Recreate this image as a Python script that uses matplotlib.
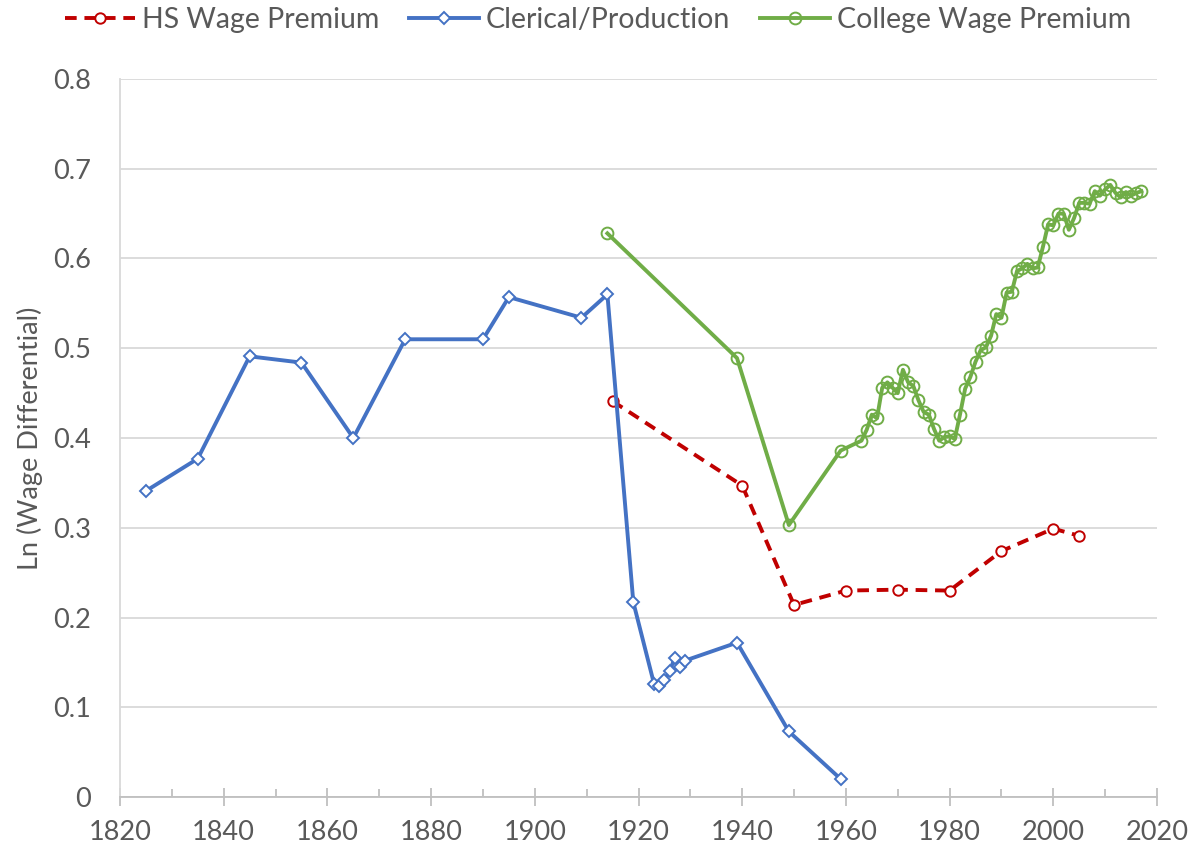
import matplotlib.pyplot as plt
from matplotlib.ticker import MultipleLocator

plt.rcParams['font.family'] = ['Lato', 'DejaVu Sans']

# HS wage premium
hs_years = [1915, 1940, 1950, 1960, 1970, 1980, 1990, 2000, 2005]
hs_vals = [0.441, 0.347, 0.214, 0.230, 0.231, 0.230, 0.274, 0.299, 0.291]

# Clerical / production
cl_years = [1825, 1835, 1845, 1855, 1865, 1875, 1890, 1895, 1909, 1914, 1919,
            1923, 1924, 1925, 1926, 1927, 1928, 1929, 1939, 1949, 1959]
cl_vals = [0.341, 0.377, 0.491, 0.484, 0.400, 0.510, 0.510, 0.557, 0.534, 0.560, 0.217,
           0.126, 0.124, 0.130, 0.140, 0.155, 0.145, 0.152, 0.172, 0.073, 0.020]

# College wage premium
co_years = [1914, 1939, 1949, 1959] + list(range(1963, 2018))
co_vals = [0.628, 0.489, 0.303, 0.386,
           0.397, 0.409, 0.426, 0.422, 0.456, 0.462, 0.456, 0.450, 0.476, 0.462,
           0.458, 0.442, 0.429, 0.426, 0.410, 0.397, 0.401, 0.402, 0.399, 0.426,
           0.455, 0.468, 0.485, 0.498, 0.501, 0.514, 0.538, 0.534, 0.562, 0.563,
           0.586, 0.589, 0.594, 0.589, 0.590, 0.613, 0.638, 0.637, 0.650, 0.650,
           0.632, 0.645, 0.662, 0.662, 0.661, 0.675, 0.670, 0.677, 0.682, 0.673,
           0.668, 0.674, 0.670, 0.673, 0.675]

fig = plt.figure(figsize=(11.96, 8.56), dpi=100)
ax = fig.add_axes([120/1196, 1 - 797/856, (1157-120)/1196, (797-79)/856])

ax.plot(hs_years, hs_vals, color='#C00000', lw=2.8, ls=(0, (3, 2)), marker='o',
        ms=7.5, mfc='white', mec='#C00000', mew=1.4, label='HS Wage Premium', zorder=3)
ax.plot(cl_years, cl_vals, color='#4472C4', lw=2.8, marker='D', ms=6,
        mfc='white', mec='#4472C4', mew=1.4, label='Clerical/Production', zorder=4)
ax.plot(co_years, co_vals, color='#70AD47', lw=2.8, marker='o', ms=8.5,
        mfc='none', mec='#70AD47', mew=1.4, label='College Wage Premium', zorder=5)

ax.set_xlim(1820, 2020)
ax.set_ylim(0, 0.8)
ax.xaxis.set_major_locator(MultipleLocator(20))
ax.xaxis.set_minor_locator(MultipleLocator(10))
ax.yaxis.set_major_locator(MultipleLocator(0.1))
ax.yaxis.set_major_formatter(plt.FuncFormatter(lambda v, p: '0' if abs(v) < 1e-9 else '%.1f' % v))

ax.grid(axis='y', color='#D9D9D9', lw=1.3)
ax.set_axisbelow(True)
for s in ['top', 'right']:
    ax.spines[s].set_visible(False)
ax.spines['left'].set_color('#D9D9D9')
ax.spines['bottom'].set_color('#BFBFBF')
ax.spines['left'].set_linewidth(1.3)
ax.spines['bottom'].set_linewidth(1.3)
ax.tick_params(axis='y', length=0, labelsize=19.5, labelcolor='#595959', pad=21)
ax.tick_params(axis='x', which='major', direction='inout', length=13.5, width=1.3,
               color='#BFBFBF', labelsize=19.5, labelcolor='#595959', pad=10)
ax.tick_params(axis='x', which='minor', direction='in', length=6, width=1.3,
               color='#BFBFBF')

ax.set_ylabel('Ln (Wage Differential)', fontsize=19.5, color='#595959', labelpad=7)

fig.legend(loc='upper center', bbox_to_anchor=(0.5, 1.008), ncol=3, frameon=False,
           fontsize=20.5, labelcolor='#595959', handlelength=2.45, columnspacing=1.05,
           handletextpad=0.25, borderaxespad=0.1)

fig.savefig('out.png', dpi=100)
